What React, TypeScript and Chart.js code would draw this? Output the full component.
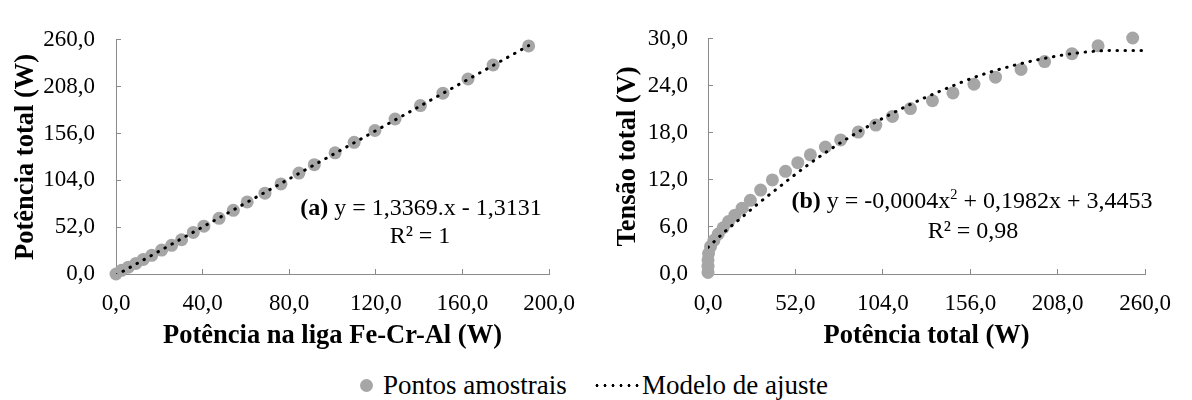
import React, { useEffect, useRef } from "react";
import { Chart, registerables } from "chart.js";

Chart.register(...registerables);

// ---- Data (a): Potência na liga Fe-Cr-Al (W) vs Potência total (W)
const alloyPower = [0, 2.6, 5.7, 9.2, 12.6, 16.5, 21.1, 25.7, 30.3, 35.7, 40.6, 47.6, 54.2, 60.6, 68.8, 76.2, 84.5, 91.6, 101.2, 110.0, 119.6, 128.9, 140.6, 151.0, 162.6, 174.2, 190.6];
const totalPowerA = [0, 4.1, 7.6, 11.7, 16.2, 20.7, 26.6, 31.8, 38.0, 46.2, 53.1, 61.8, 70.7, 80.0, 89.7, 100.0, 112.0, 121.4, 134.5, 146.2, 159.3, 172.1, 187.0, 200.7, 216.5, 232.0, 253.2];
const fitAX = [0, 190.6];
const fitAY = [-1.3, 253.5];

// ---- Data (b): Potência total (W) vs Tensão total (V)
const totalPowerB = [0, 0, 0, 0.3, 1.5, 3.5, 6.1, 9.0, 12.2, 16.0, 20.3, 25.2, 31.3, 38.3, 46.1, 53.4, 60.9, 69.8, 78.9, 89.4, 99.8, 109.7, 120.4, 133.5, 145.7, 158.2, 171.0, 186.2, 200.2, 216.5, 232.0, 252.6];
const voltageB = [0.2, 1.0, 1.8, 2.6, 3.5, 4.3, 5.1, 5.9, 6.7, 7.5, 8.4, 9.4, 10.7, 12.0, 13.1, 14.2, 15.2, 16.2, 17.1, 18.1, 19.0, 20.1, 21.1, 22.1, 23.1, 24.2, 25.1, 26.1, 27.1, 28.1, 29.1, 30.1];
const fitBX = [0, 10, 20, 30, 40, 60, 80, 100, 120, 140, 160, 180, 200, 220, 240, 260];
const fitBY = [3.4, 5.4, 7.2, 9.0, 10.7, 14.0, 16.9, 19.4, 21.6, 23.5, 25.2, 26.5, 27.5, 28.2, 28.5, 28.5];

// ---- Axis ticks / labels
const axTicks = { xMax: 200, xStep: 40, yMax: 260, yStep: 52 };
const bxTicks = { xMax: 260, xStep: 52, yMax: 30, yStep: 6 };
const titlesA = { x: "Potência na liga Fe-Cr-Al (W)", y: "Potência total (W)" };
const titlesB = { x: "Potência total (W)", y: "Tensão total (V)" };
const legendLabels = ["Pontos amostrais", "Modelo de ajuste"];

const SERIF = "'Liberation Serif', 'Times New Roman', serif";
const AXIS_COLOR = "#8a8a8a";
const DOT_COLOR = "#a6a6a6";

const fmt = (v: number) => v.toFixed(1).replace(".", ",");

function pairs(xs: number[], ys: number[]) {
  return xs.map((x, i) => ({ x, y: ys[i] }));
}

function makeConfig(
  pts: { x: number; y: number }[],
  fit: { x: number; y: number }[],
  t: { xMax: number; xStep: number; yMax: number; yStep: number },
  titles: { x: string; y: string },
  geo: { yWidth: number; padRight: number; yLabelPad: number; yTitlePad: number; curve: boolean }
): any {
  const H = 360;
  const plotBottom = 274;
  return {
    type: "scatter",
    data: {
      datasets: [
        {
          label: legendLabels[1],
          data: fit,
          showLine: true,
          pointRadius: 0,
          borderColor: "#000",
          borderWidth: 3,
          borderDash: [0.5, 7.5],
          borderCapStyle: "round",
          cubicInterpolationMode: geo.curve ? "monotone" : "default",
          order: 0,
        },
        {
          label: legendLabels[0],
          data: pts,
          showLine: false,
          pointRadius: 6.5,
          pointBackgroundColor: DOT_COLOR,
          pointBorderWidth: 0,
          backgroundColor: DOT_COLOR,
          clip: false,
          order: 1,
        },
      ],
    },
    options: {
      responsive: false,
      animation: false,
      devicePixelRatio: 1,
      layout: { padding: { top: 23, right: geo.padRight, left: 0, bottom: 0 } },
      plugins: { legend: { display: false }, tooltip: { enabled: false } },
      scales: {
        x: {
          type: "linear",
          min: 0,
          max: t.xMax,
          afterFit: (s: any) => {
            s.height = H - plotBottom;
          },
          afterBuildTicks: (s: any) => {
            const arr = [];
            for (let v = 0; v <= t.xMax + 1e-9; v += t.xStep) arr.push({ value: v });
            s.ticks = arr;
          },
          ticks: {
            callback: (v: number) => fmt(v),
            font: { family: SERIF, size: 23 },
            color: "#000",
            padding: 21,
            maxRotation: 0,
            autoSkip: false,
          },
          grid: {
            drawOnChartArea: false,
            drawTicks: true,
            tickLength: -5,
            color: AXIS_COLOR,
            lineWidth: 1,
          },
          border: { display: true, color: AXIS_COLOR, width: 1 },
          title: {
            display: true,
            text: titles.x,
            font: { family: SERIF, size: 26.5, weight: "bold" },
            color: "#000",
            padding: { top: 0, bottom: 8 },
          },
        },
        y: {
          type: "linear",
          min: 0,
          max: t.yMax,
          afterFit: (s: any) => {
            s.width = geo.yWidth;
          },
          afterBuildTicks: (s: any) => {
            const arr = [];
            for (let v = 0; v <= t.yMax + 1e-9; v += t.yStep) arr.push({ value: v });
            s.ticks = arr;
          },
          ticks: {
            callback: (v: number) => fmt(v),
            font: { family: SERIF, size: 23 },
            color: "#000",
            padding: geo.yLabelPad,
            autoSkip: false,
          },
          grid: {
            drawOnChartArea: false,
            drawTicks: true,
            tickLength: -5,
            color: AXIS_COLOR,
            lineWidth: 1,
          },
          border: { display: true, color: AXIS_COLOR, width: 1 },
          title: {
            display: true,
            text: titles.y,
            font: { family: SERIF, size: 26.5, weight: "bold" },
            color: "#000",
            padding: { top: geo.yTitlePad, bottom: 0 },
          },
        },
      },
    },
  };
}

export default function App() {
  const refA = useRef<HTMLCanvasElement>(null);
  const refB = useRef<HTMLCanvasElement>(null);

  useEffect(() => {
    const cA = new Chart(
      refA.current as HTMLCanvasElement,
      makeConfig(pairs(alloyPower, totalPowerA), pairs(fitAX, fitAY), axTicks, titlesA, {
        yWidth: 116,
        padRight: 47,
        yLabelPad: 26,
        yTitlePad: 10,
        curve: false,
      })
    );
    const cB = new Chart(
      refB.current as HTMLCanvasElement,
      makeConfig(pairs(totalPowerB, voltageB), pairs(fitBX, fitBY), bxTicks, titlesB, {
        yWidth: 112,
        padRight: 36,
        yLabelPad: 25,
        yTitlePad: 16,
        curve: true,
      })
    );
    return () => {
      cA.destroy();
      cB.destroy();
    };
  }, []);

  const eqStyle: React.CSSProperties = {
    position: "absolute",
    fontFamily: SERIF,
    fontSize: 24,
    color: "#000",
    textAlign: "center",
    whiteSpace: "nowrap",
    lineHeight: "28px",
    width: 400,
  };

  return (
    <div style={{ position: "fixed", left: 0, top: 0, width: 1192, height: 400, background: "#fff", overflow: "hidden" }}>
      <div style={{ position: "absolute", left: 0, top: 0, width: 596, height: 360 }}>
        <canvas ref={refA} width={596} height={360} style={{ display: "block" }} />
      </div>
      <div style={{ position: "absolute", left: 596, top: 0, width: 596, height: 360 }}>
        <canvas ref={refB} width={596} height={360} style={{ display: "block" }} />
      </div>

      <div style={{ ...eqStyle, left: 421 - 200, top: 207 - 14 }}>
        <b>(a)</b> y = 1,3369.x - 1,3131
      </div>
      <div style={{ ...eqStyle, left: 420 - 200, top: 235 - 14 }}>R² = 1</div>

      <div style={{ ...eqStyle, left: 972 - 200, top: 200 - 14 }}>
        <b>(b)</b> y = -0,0004x<sup style={{ fontSize: "0.6em", lineHeight: 0 }}>2</sup> + 0,1982x + 3,4453
      </div>
      <div style={{ ...eqStyle, left: 973 - 200, top: 230 - 14 }}>R² = 0,98</div>

      <div
        style={{
          position: "absolute",
          left: 0,
          top: 385 - 16,
          width: 1192,
          height: 32,
          fontFamily: SERIF,
          fontSize: 27,
          lineHeight: "32px",
          color: "#000",
        }}
      >
        <span
          style={{
            position: "absolute",
            left: 366 - 6.5,
            top: 16 - 6.5,
            width: 13,
            height: 13,
            borderRadius: "50%",
            background: DOT_COLOR,
          }}
        />
        <span style={{ position: "absolute", left: 383, top: 0, whiteSpace: "nowrap" }}>{legendLabels[0]}</span>
        <span
          style={{
            position: "absolute",
            left: 593,
            top: 16 - 1.5,
            width: 46,
            height: 3,
            backgroundImage: "radial-gradient(circle, #000 1.4px, transparent 1.6px)",
            backgroundSize: "8px 3px",
            backgroundRepeat: "repeat-x",
          }}
        />
        <span style={{ position: "absolute", left: 642, top: 0, whiteSpace: "nowrap" }}>{legendLabels[1]}</span>
      </div>
    </div>
  );
}
